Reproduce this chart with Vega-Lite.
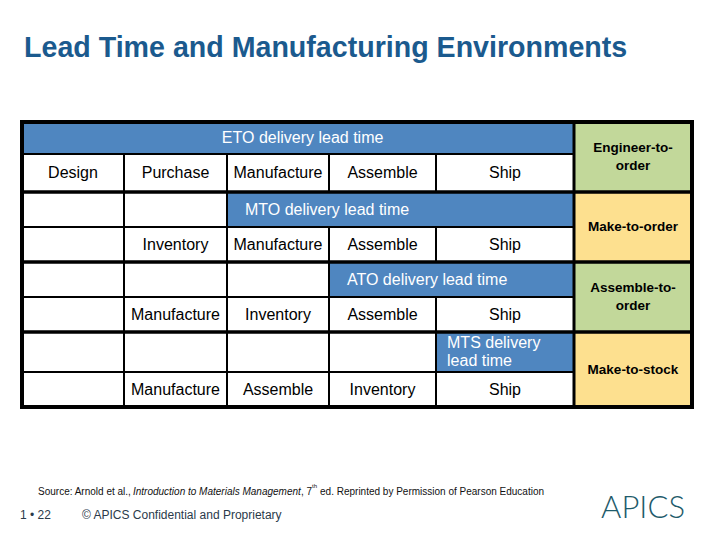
{
  "$schema": "https://vega.github.io/schema/vega-lite/v6.json",
  "width": 720,
  "height": 540,
  "autosize": {"type": "none"},
  "padding": 0,
  "background": "white",
  "config": {"view": {"stroke": null}, "font": "Liberation Sans"},
  "datasets": {
    "cells": [
      {"col": 0, "col2": 5, "row": 0, "row2": 1, "kind": "lead time"},
      {"col": 0, "col2": 1, "row": 1, "row2": 2, "kind": "step"},
      {"col": 1, "col2": 2, "row": 1, "row2": 2, "kind": "step"},
      {"col": 2, "col2": 3, "row": 1, "row2": 2, "kind": "step"},
      {"col": 3, "col2": 4, "row": 1, "row2": 2, "kind": "step"},
      {"col": 4, "col2": 5, "row": 1, "row2": 2, "kind": "step"},
      {"col": 0, "col2": 1, "row": 2, "row2": 3, "kind": "step"},
      {"col": 1, "col2": 2, "row": 2, "row2": 3, "kind": "step"},
      {"col": 2, "col2": 5, "row": 2, "row2": 3, "kind": "lead time"},
      {"col": 0, "col2": 1, "row": 3, "row2": 4, "kind": "step"},
      {"col": 1, "col2": 2, "row": 3, "row2": 4, "kind": "step"},
      {"col": 2, "col2": 3, "row": 3, "row2": 4, "kind": "step"},
      {"col": 3, "col2": 4, "row": 3, "row2": 4, "kind": "step"},
      {"col": 4, "col2": 5, "row": 3, "row2": 4, "kind": "step"},
      {"col": 0, "col2": 1, "row": 4, "row2": 5, "kind": "step"},
      {"col": 1, "col2": 2, "row": 4, "row2": 5, "kind": "step"},
      {"col": 2, "col2": 3, "row": 4, "row2": 5, "kind": "step"},
      {"col": 3, "col2": 5, "row": 4, "row2": 5, "kind": "lead time"},
      {"col": 0, "col2": 1, "row": 5, "row2": 6, "kind": "step"},
      {"col": 1, "col2": 2, "row": 5, "row2": 6, "kind": "step"},
      {"col": 2, "col2": 3, "row": 5, "row2": 6, "kind": "step"},
      {"col": 3, "col2": 4, "row": 5, "row2": 6, "kind": "step"},
      {"col": 4, "col2": 5, "row": 5, "row2": 6, "kind": "step"},
      {"col": 0, "col2": 1, "row": 6, "row2": 7, "kind": "step"},
      {"col": 1, "col2": 2, "row": 6, "row2": 7, "kind": "step"},
      {"col": 2, "col2": 3, "row": 6, "row2": 7, "kind": "step"},
      {"col": 3, "col2": 4, "row": 6, "row2": 7, "kind": "step"},
      {"col": 4, "col2": 5, "row": 6, "row2": 7, "kind": "lead time"},
      {"col": 0, "col2": 1, "row": 7, "row2": 8, "kind": "step"},
      {"col": 1, "col2": 2, "row": 7, "row2": 8, "kind": "step"},
      {"col": 2, "col2": 3, "row": 7, "row2": 8, "kind": "step"},
      {"col": 3, "col2": 4, "row": 7, "row2": 8, "kind": "step"},
      {"col": 4, "col2": 5, "row": 7, "row2": 8, "kind": "step"},
      {"col": 5, "col2": 6, "row": 0, "row2": 2, "kind": "ETO/ATO"},
      {"col": 5, "col2": 6, "row": 2, "row2": 4, "kind": "MTO/MTS"},
      {"col": 5, "col2": 6, "row": 4, "row2": 6, "kind": "ETO/ATO"},
      {"col": 5, "col2": 6, "row": 6, "row2": 8, "kind": "MTO/MTS"}
    ],
    "steps": [
      {"col": 0.5, "row": 1.5, "step": "Design"},
      {"col": 1.5, "row": 1.5, "step": "Purchase"},
      {"col": 2.5, "row": 1.5, "step": "Manufacture"},
      {"col": 3.5, "row": 1.5, "step": "Assemble"},
      {"col": 4.5, "row": 1.5, "step": "Ship"},
      {"col": 1.5, "row": 3.5, "step": "Inventory"},
      {"col": 2.5, "row": 3.5, "step": "Manufacture"},
      {"col": 3.5, "row": 3.5, "step": "Assemble"},
      {"col": 4.5, "row": 3.5, "step": "Ship"},
      {"col": 1.5, "row": 5.5, "step": "Manufacture"},
      {"col": 2.5, "row": 5.5, "step": "Inventory"},
      {"col": 3.5, "row": 5.5, "step": "Assemble"},
      {"col": 4.5, "row": 5.5, "step": "Ship"},
      {"col": 1.5, "row": 7.5, "step": "Manufacture"},
      {"col": 2.5, "row": 7.5, "step": "Assemble"},
      {"col": 3.5, "row": 7.5, "step": "Inventory"},
      {"col": 4.5, "row": 7.5, "step": "Ship"}
    ],
    "leadtimes": [
      {"col": 1.95, "row": 0.5, "label": "ETO delivery lead time"},
      {"col": 2.176, "row": 2.5, "label": "MTO delivery lead time"},
      {"col": 3.168, "row": 4.5, "label": "ATO delivery lead time"}
    ],
    "envs1": [
      {"col": 5.5, "row": 3, "env": "Make-to-order"},
      {"col": 5.5, "row": 6.94, "env": "Make-to-stock"}
    ],
    "envs2": [
      {"col": 5.5, "row": 1.08, "env": "Engineer-to-\norder"},
      {"col": 5.5, "row": 5, "env": "Assemble-to-\norder"}
    ]
  },
  "encoding": {
    "x": {"field": "col", "type": "quantitative", "axis": null,
      "scale": {"domain": [0, 1, 2, 3, 4, 5, 6], "range": [22, 124, 227, 329, 436, 574, 692], "zero": false, "nice": false}},
    "y": {"field": "row", "type": "quantitative", "axis": null,
      "scale": {"domain": [-1, 0, 1, 2, 3, 4, 5, 6, 7, 8, 9, 10], "range": [47, 122, 154, 192, 227, 262, 297, 332, 372, 407, 492, 515], "zero": false, "nice": false}}
  },
  "layer": [
    {
      "data": {"name": "cells"},
      "mark": {"type": "rect", "stroke": "black", "strokeWidth": 2},
      "encoding": {
        "x2": {"field": "col2"},
        "y2": {"field": "row2"},
        "fill": {"field": "kind", "type": "nominal", "legend": null,
          "scale": {"domain": ["lead time", "step", "ETO/ATO", "MTO/MTS"], "range": ["#4F86C0", "#FFFFFF", "#C2D89A", "#FDE08F"]}}
      }
    },
    {
      "data": {"values": [{"col": 0, "col2": 6, "row": 2}, {"col": 0, "col2": 6, "row": 4}, {"col": 0, "col2": 6, "row": 6}]},
      "mark": {"type": "rule", "stroke": "black", "strokeWidth": 3.5},
      "encoding": {"x2": {"field": "col2"}}
    },
    {
      "data": {"values": [{"col": 5, "row": 0, "row2": 8}]},
      "mark": {"type": "rule", "stroke": "black", "strokeWidth": 3},
      "encoding": {"y2": {"field": "row2"}}
    },
    {
      "data": {"values": [{"col": 0, "col2": 6, "row": 0, "row2": 8}]},
      "mark": {"type": "rect", "fill": null, "fillOpacity": 0, "stroke": "black", "strokeWidth": 4},
      "encoding": {"x2": {"field": "col2"}, "y2": {"field": "row2"}}
    },
    {
      "data": {"name": "steps"},
      "mark": {"type": "text", "align": "center", "baseline": "middle", "fontSize": 16, "color": "black"},
      "encoding": {"text": {"field": "step"}}
    },
    {
      "data": {"name": "leadtimes"},
      "mark": {"type": "text", "align": "left", "baseline": "middle", "fontSize": 16, "color": "white"},
      "encoding": {"text": {"field": "label"}}
    },
    {
      "data": {"values": [{"col": 4.08, "row": 6.5, "label": "MTS delivery\n lead time"}]},
      "mark": {"type": "text", "align": "left", "baseline": "middle", "fontSize": 16, "color": "white", "lineBreak": "\n", "lineHeight": 18, "dy": -9},
      "encoding": {"text": {"field": "label"}}
    },
    {
      "data": {"name": "envs1"},
      "mark": {"type": "text", "align": "center", "baseline": "middle", "fontSize": 13.5, "fontWeight": "bold", "color": "black"},
      "encoding": {"text": {"field": "env"}}
    },
    {
      "data": {"name": "envs2"},
      "mark": {"type": "text", "align": "center", "baseline": "middle", "fontSize": 13.5, "fontWeight": "bold", "color": "black", "lineBreak": "\n", "lineHeight": 18, "dy": -9},
      "encoding": {"text": {"field": "env"}}
    },
    {
      "data": {"values": [{"col": 0.02, "row": -1, "label": "Lead Time and Manufacturing Environments"}]},
      "mark": {"type": "text", "align": "left", "baseline": "middle", "fontSize": 28.6, "fontWeight": "bold", "color": "#1B5A8E", "dy": 1},
      "encoding": {"text": {"field": "label"}}
    },
    {
      "data": {"values": [
        {"col": 0.157, "row": 9, "label": "Source: Arnold et al.,"},
        {"col": 2.725, "row": 9, "label": ", 7"},
        {"col": 2.912, "row": 9, "label": "ed. Reprinted by Permission of Pearson Education"}
      ]},
      "mark": {"type": "text", "align": "left", "baseline": "middle", "fontSize": 10, "color": "#111111"},
      "encoding": {"text": {"field": "label"}}
    },
    {
      "data": {"values": [{"col": 1.087, "row": 9, "label": "Introduction to Materials Management"}]},
      "mark": {"type": "text", "align": "left", "baseline": "middle", "fontSize": 10, "fontStyle": "italic", "color": "#111111"},
      "encoding": {"text": {"field": "label"}}
    },
    {
      "data": {"values": [{"col": 2.833, "row": 8.93, "label": "th"}]},
      "mark": {"type": "text", "align": "left", "baseline": "middle", "fontSize": 6, "color": "#111111"},
      "encoding": {"text": {"field": "label"}}
    },
    {
      "data": {"values": [
        {"col": -0.0196, "row": 10, "label": "1 • 22"},
        {"col": 0.588, "row": 10, "label": "© APICS Confidential and Proprietary"}
      ]},
      "mark": {"type": "text", "align": "left", "baseline": "middle", "fontSize": 12, "color": "#2A3A4A"},
      "encoding": {"text": {"field": "label"}}
    },
    {
      "data": {"values": [{"col": 5.585, "row": 9.72, "label": "APICS"}]},
      "mark": {"type": "text", "align": "center", "baseline": "middle", "fontSize": 31, "font": "Lato", "fontWeight": 300, "color": "#1E5B6B"},
      "encoding": {"text": {"field": "label"}}
    }
  ]
}
